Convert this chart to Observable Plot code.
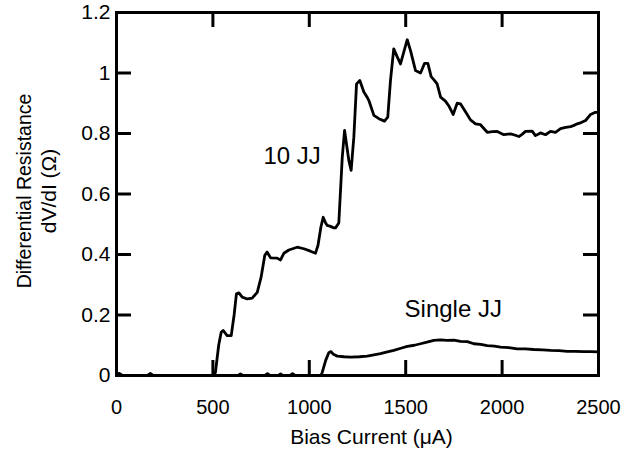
<!DOCTYPE html>
<html>
<head>
<meta charset="utf-8">
<script src="https://cdn.jsdelivr.net/npm/d3@7"></script>
<script src="https://cdn.jsdelivr.net/npm/@observablehq/plot@0.6"></script>
<style>
  body { margin: 0; background: #fff; }
  #chart svg { font-family: "Liberation Sans", Arial, Helvetica, sans-serif; }
</style>
</head>
<body>
<div id="chart"></div>
<script>
// ---- data ----
const jj10Current = [0, 15, 30, 160, 175, 190, 505, 513, 530, 543, 553, 574, 595, 610, 622, 635, 652, 678, 704, 730, 750, 769, 781, 799, 833, 851, 868, 894, 937, 972, 1006, 1032, 1045, 1060, 1072, 1084, 1093, 1110, 1127, 1136, 1153, 1171, 1183, 1205, 1217, 1231, 1245, 1262, 1283, 1300, 1309, 1335, 1361, 1390, 1407, 1421, 1438, 1455, 1473, 1508, 1525, 1551, 1577, 1598, 1615, 1632, 1650, 1663, 1681, 1706, 1725, 1746, 1767, 1784, 1815, 1836, 1862, 1888, 1923, 1950, 1975, 2009, 2044, 2065, 2087, 2105, 2121, 2156, 2173, 2199, 2225, 2251, 2277, 2303, 2330, 2355, 2370, 2390, 2410, 2433, 2459, 2484, 2500];
const jj10Resistance = [0.004, 0.007, 0, 0, 0.006, 0, 0, 0.01, 0.1, 0.143, 0.149, 0.132, 0.132, 0.2, 0.27, 0.273, 0.259, 0.253, 0.256, 0.275, 0.325, 0.397, 0.408, 0.389, 0.388, 0.382, 0.404, 0.415, 0.424, 0.419, 0.411, 0.404, 0.43, 0.49, 0.523, 0.505, 0.496, 0.493, 0.488, 0.488, 0.504, 0.722, 0.81, 0.711, 0.678, 0.788, 0.964, 0.975, 0.937, 0.92, 0.909, 0.86, 0.849, 0.841, 0.854, 0.975, 1.08, 1.055, 1.03, 1.11, 1.074, 1.008, 1.0, 1.032, 1.032, 0.988, 0.975, 0.964, 0.92, 0.907, 0.89, 0.863, 0.9, 0.898, 0.867, 0.845, 0.832, 0.829, 0.804, 0.806, 0.807, 0.796, 0.799, 0.795, 0.79, 0.798, 0.807, 0.808, 0.793, 0.802, 0.796, 0.807, 0.804, 0.816, 0.82, 0.823, 0.826, 0.832, 0.836, 0.843, 0.863, 0.87, 0.87];

const singleCurrent = [0, 165, 176, 188, 630, 643, 656, 770, 783, 796, 840, 851, 862, 900, 913, 926, 1060, 1067, 1085, 1101, 1113, 1125, 1145, 1180, 1214, 1260, 1300, 1335, 1369, 1405, 1438, 1475, 1508, 1545, 1577, 1610, 1646, 1680, 1715, 1750, 1784, 1820, 1853, 1890, 1923, 1960, 1992, 2035, 2078, 2120, 2164, 2210, 2251, 2295, 2338, 2380, 2424, 2460, 2500];
const singleResistance = [0, 0, 0.006, 0, 0, 0.005, 0, 0, 0.006, 0, 0, 0.005, 0, 0, 0.006, 0, 0, 0.01, 0.05, 0.075, 0.079, 0.07, 0.064, 0.062, 0.061, 0.062, 0.064, 0.068, 0.072, 0.078, 0.083, 0.09, 0.096, 0.1, 0.105, 0.11, 0.116, 0.118, 0.116, 0.117, 0.113, 0.112, 0.105, 0.103, 0.099, 0.097, 0.094, 0.092, 0.088, 0.088, 0.086, 0.085, 0.083, 0.082, 0.08, 0.08, 0.079, 0.079, 0.078];

const xTicks = [0, 500, 1000, 1500, 2000, 2500];
const xTickLabels = ["0", "500", "1000", "1500", "2000", "2500"];
const yTicks = [0, 0.2, 0.4, 0.6, 0.8, 1, 1.2];
const yTickLabels = ["0", "0.2", "0.4", "0.6", "0.8", "1", "1.2"];

const curveLabels = ["10 JJ", "Single JJ"];
const curveLabelCurrent = [762, 1494];
const curveLabelResistance = [0.726, 0.218];

const xTitle = "Bias Current (\u03BCA)";
const yTitleLine1 = "Differential Resistance";
const yTitleLine2 = "dV/dI (\u03A9)";

// ---- build tables ----
const jj10 = jj10Current.map((x, i) => ({x, y: jj10Resistance[i]}));
const single = singleCurrent.map((x, i) => ({x, y: singleResistance[i]}));
const labels = curveLabels.map((t, i) => ({t, x: curveLabelCurrent[i], y: curveLabelResistance[i]}));

// ---- layout ----
const W = 627, H = 455, mL = 116, mR = 29, mT = 12, mB = 80;
const innerW = W - mL - mR, innerH = H - mT - mB;
const tickLen = 15;
const innerX = xTicks.slice(1, -1);
const innerY = yTicks.slice(1, -1);

const chart = Plot.plot({
  width: W, height: H,
  marginLeft: mL, marginRight: mR, marginTop: mT, marginBottom: mB,
  style: {fontFamily: "'Liberation Sans', Arial, Helvetica, sans-serif", background: "#fff", color: "#000"},
  x: {domain: [0, 2500]},
  y: {domain: [0, 1.2]},
  marks: [
    Plot.line(jj10, {x: "x", y: "y", stroke: "#000", strokeWidth: 2.8, strokeLinejoin: "round"}),
    Plot.line(single, {x: "x", y: "y", stroke: "#000", strokeWidth: 2.8, strokeLinejoin: "round"}),
    // inward ticks on all four sides
    Plot.tickX(innerX, {x: d => d, insetTop: innerH - tickLen, stroke: "#000", strokeWidth: 3}),
    Plot.tickX(innerX, {x: d => d, insetBottom: innerH - tickLen, stroke: "#000", strokeWidth: 3}),
    Plot.tickY(yTicks, {y: d => d, insetRight: innerW - tickLen, stroke: "#000", strokeWidth: 3}),
    Plot.tickY(innerY, {y: d => d, insetLeft: innerW - tickLen, stroke: "#000", strokeWidth: 3}),
    Plot.frame({stroke: "#000", strokeWidth: 3}),
    Plot.axisX(xTicks, {tickSize: 0, tickPadding: 24, fontSize: 20, label: null,
      tickFormat: d => xTickLabels[xTicks.indexOf(d)]}),
    Plot.axisY(yTicks, {tickSize: 0, tickPadding: 6, fontSize: 21, label: null,
      tickFormat: d => yTickLabels[yTicks.indexOf(d)]}),
    Plot.text([xTitle], {text: d => d, frameAnchor: "bottom", lineAnchor: "middle", textAnchor: "middle",
      dy: 62, dx: 14, fontSize: 21, fill: "#000"}),
    Plot.text([yTitleLine1], {text: d => d, frameAnchor: "left", lineAnchor: "middle", textAnchor: "middle",
      dx: -92, dy: -3, rotate: -90, fontSize: 19.5, fill: "#000"}),
    Plot.text([yTitleLine2], {text: d => d, frameAnchor: "left", lineAnchor: "middle", textAnchor: "middle",
      dx: -67, dy: -3, rotate: -90, fontSize: 21, fill: "#000"}),
    Plot.text(labels, {x: "x", y: "y", text: "t", textAnchor: "start", fontSize: 24, fill: "#000"})
  ]
});
document.getElementById("chart").appendChild(chart);
</script>
</body>
</html>
